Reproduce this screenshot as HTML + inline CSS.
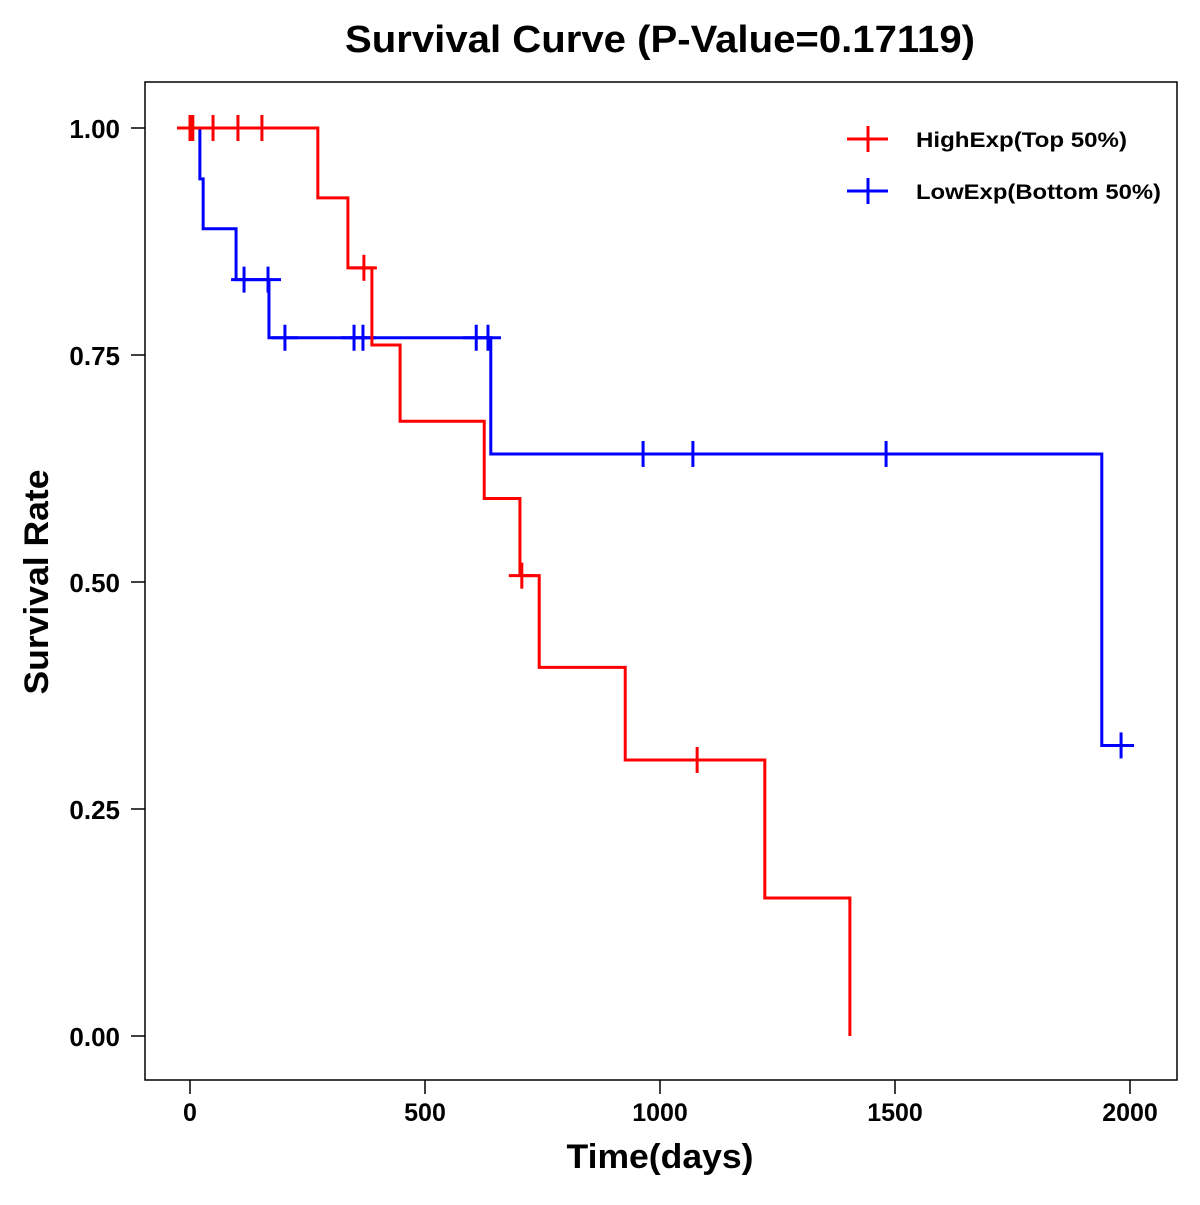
<!DOCTYPE html>
<html><head><meta charset="utf-8"><style>
body{margin:0;background:#fff}
svg text{font-family:"Liberation Sans",Arial,sans-serif;font-weight:bold}
</style></head><body>
<svg id="chart" width="1200" height="1200" xmlns="http://www.w3.org/2000/svg">
<rect width="1200" height="1200" fill="#fff"/>
<text x="660" y="52" font-size="38" text-anchor="middle" textLength="630" lengthAdjust="spacingAndGlyphs">Survival Curve (P-Value=0.17119)</text>
<rect x="145" y="82" width="1032" height="998" fill="none" stroke="#000" stroke-width="1.5"/>
<g id="xticks"></g><g id="yticks"></g>
<g id="series"></g>
<text x="660" y="1168" font-size="34" text-anchor="middle" textLength="187" lengthAdjust="spacingAndGlyphs">Time(days)</text>
<text transform="translate(48,582) rotate(-90)" font-size="34" text-anchor="middle" textLength="225" lengthAdjust="spacingAndGlyphs">Survival Rate</text>
<g>
<g>
<line x1="847" y1="139" x2="888" y2="139" stroke="#f00" stroke-width="3"/>
<line x1="868" y1="126" x2="868" y2="152" stroke="#f00" stroke-width="3"/>
<text x="916" y="147" font-size="21" textLength="211" lengthAdjust="spacingAndGlyphs">HighExp(Top 50%)</text></g>
<g>
<line x1="847" y1="191" x2="888" y2="191" stroke="#00f" stroke-width="3"/>
<line x1="868" y1="178" x2="868" y2="204" stroke="#00f" stroke-width="3"/>
<text x="916" y="199" font-size="21" textLength="245" lengthAdjust="spacingAndGlyphs">LowExp(Bottom 50%)</text></g>
</g>
</svg>
<script>
const xTicks=[0,500,1000,1500,2000];
const yTicks=[0,0.25,0.5,0.75,1.0];
const yTickLabels=["0.00","0.25","0.50","0.75","1.00"];
const highTimes=[272,336,387,447,626,702,743,926,1223,1404];
const highSurv=[0.923,0.846,0.761,0.677,0.592,0.507,0.406,0.304,0.152,0];
const highCensor=[0,6,49,102,153,370,706,1079];
const highEnd=1404;
const lowTimes=[21,28,98,168,640,1940];
const lowSurv=[0.944,0.889,0.833,0.769,0.641,0.320];
const lowCensor=[115,166,202,349,368,609,634,964,1070,1481,1981];
const lowEnd=1981;

const NS="http://www.w3.org/2000/svg";
function X(d){return 190+d*0.47;}
function Y(s){return 1036-s*908;}
function mk(tag,attrs,parent){const e=document.createElementNS(NS,tag);for(const k in attrs)e.setAttribute(k,attrs[k]);parent.appendChild(e);return e;}
const xg=document.getElementById('xticks'),yg=document.getElementById('yticks'),sg=document.getElementById('series');
xTicks.forEach(t=>{
  const l=mk('line',{x1:X(t),x2:X(t),y1:1080,y2:1094,stroke:'#000','stroke-width':1.5},xg);
  
  
  const tx=mk('text',{x:X(t),y:1121,'font-size':25,'text-anchor':'middle'},xg);tx.textContent=t;
  
  
});
yTicks.forEach((t,i)=>{
  const l=mk('line',{x1:131,x2:145,y1:Y(t),y2:Y(t),stroke:'#000','stroke-width':1.5},yg);
  
  
  const tx=mk('text',{x:120,y:Y(t)+10,'font-size':26,'text-anchor':'end'},yg);tx.textContent=yTickLabels[i];
  
  
});
function survAt(times,surv,t){let s=1;for(let i=0;i<times.length;i++){if(times[i]<=t)s=surv[i];}return s;}
function draw(times,surv,cens,end,color,name){
  let d='M'+X(0)+','+Y(1);
  times.forEach((t,i)=>{d+=' H'+X(t)+' V'+Y(surv[i]);});
  d+=' H'+X(end);
  const p=mk('path',{d:d,fill:'none',stroke:color,'stroke-width':3},sg);
  
  
  cens.forEach(c=>{
    const v=survAt(times,surv,c);
    const g=mk('g',{},sg);
    
    
    mk('line',{x1:X(c)-13,x2:X(c)+13,y1:Y(v),y2:Y(v),stroke:color,'stroke-width':3},g);
    mk('line',{x1:X(c),x2:X(c),y1:Y(v)-13,y2:Y(v)+13,stroke:color,'stroke-width':3},g);
  });
}
draw(lowTimes,lowSurv,lowCensor,lowEnd,'#00f','low-exp');
draw(highTimes,highSurv,highCensor,highEnd,'#f00','high-exp');
</script>
</body></html>
